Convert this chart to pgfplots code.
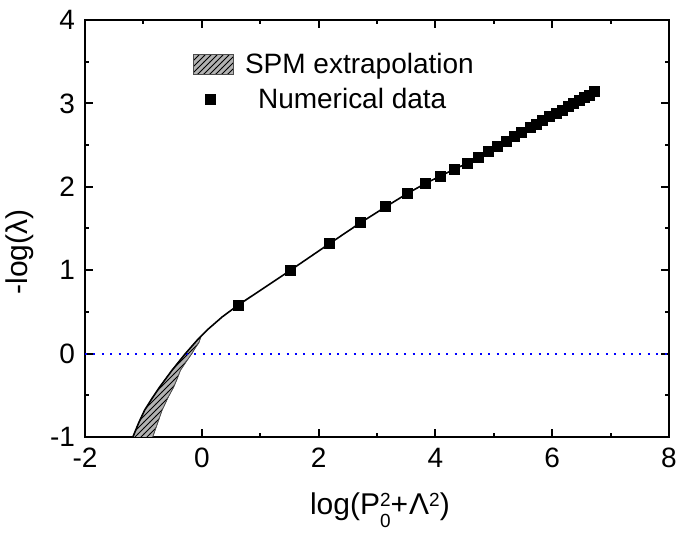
\documentclass[border=0pt]{standalone}
\usepackage{fontspec}
\setmainfont{Liberation Sans}
\usepackage{pgfplots}
\pgfplotsset{compat=1.18}
\usetikzlibrary{patterns}
\pgfplotsset{myswatch/.style={legend image code/.code={\draw[##1] (0pt,-5pt) rectangle (20pt,5pt); \path (23.5pt,0pt);}}}
\newcommand{\supsub}[2]{\makebox[0pt][l]{\raisebox{4.4pt}{\fontsize{9.5}{10}\selectfont #1}}\raisebox{-6.3pt}{\fontsize{9.5}{10}\selectfont #2}}
\begin{document}
\begin{tikzpicture}
\begin{axis}[
  scale only axis,
  width=292pt, height=208.5pt,
  xmin=-2, xmax=8, ymin=-1, ymax=4,
  xtick={-2,0,...,8}, ytick={-1,0,...,4},
  minor x tick num=1, minor y tick num=1,
  tick align=inside,
  major tick length=4pt, minor tick length=2pt,
  axis line style={line width=1pt},
  every tick/.style={line width=1pt, black},
  /pgf/number format/assume math mode=true,
  tick label style={font=\fontsize{14}{16}\selectfont},
  xticklabel style={yshift=-2pt},
  yticklabel style={xshift=-1.5pt},
  xlabel={log(P\supsub{2}{0}+\kern0.5pt Λ\raisebox{4.4pt}{\fontsize{9.5}{10}\selectfont 2})},
  ylabel={-log(λ)},
  label style={font=\fontsize{15}{17}\selectfont},
  xlabel style={at={(rel axis cs:0.505,-0.187)}, anchor=base},
  ylabel style={at={(rel axis cs:-0.111,0.444)}, anchor=center},
  legend style={at={(0.185,0.932)}, anchor=north west, draw=none, fill=none,
    font=\fontsize{14}{16}\selectfont, row sep=2pt, inner sep=0pt,
    nodes={inner sep=2pt}},
  legend cell align=left,
]
\coordinate (SW) at (rel axis cs:0,0);
\coordinate (NE) at (rel axis cs:1,1);
% SPM extrapolation region
\addplot[fill=gray!60, draw=gray!60!black, line width=0.3pt,
  postaction={pattern=north east lines}, myswatch]
  coordinates {(-0.02,0.19) (-0.08,0.16) (-0.18,0.08) (-0.28,0.0) (-0.395,-0.10) (-0.51,-0.20) (-0.615,-0.30) (-0.72,-0.40) (-0.85,-0.535) (-0.98,-0.68) (-1.08,-0.83) (-1.18,-1.0) (-1.2,-1.05)
  (-0.82,-1.05) (-0.84,-1.0) (-0.76,-0.84) (-0.68,-0.68) (-0.58,-0.53) (-0.48,-0.40) (-0.42,-0.30) (-0.365,-0.20) (-0.27,-0.10) (-0.17,0.0) (-0.11,0.07) (-0.05,0.13)} --cycle;
\addlegendentry{SPM extrapolation}
% blue dotted zero line
\addplot[blue, line width=1pt, dash pattern=on 1pt off 3.2pt, forget plot]
  coordinates {(-2,0) (8,0)};
% solid curve
\addplot[black, line width=0.8pt, forget plot] coordinates {
(-1.22,-1.06) (-1.18,-1.0) (-1.08,-0.83) (-0.98,-0.68) (-0.85,-0.535) (-0.72,-0.40) (-0.615,-0.30) (-0.51,-0.20) (-0.395,-0.10) (-0.28,0.0) (-0.18,0.08) (-0.08,0.16) (0.12,0.30) (0.35,0.44)
(0.62,0.58) (1.52,1.00) (2.19,1.32) (2.72,1.57) (3.15,1.76) (3.52,1.92) (3.83,2.04) (4.09,2.13) (4.32,2.21) (4.54,2.28)
(4.73,2.35) (4.90,2.42) (5.06,2.48) (5.21,2.54) (5.35,2.60) (5.48,2.65) (5.62,2.71) (5.73,2.75) (5.84,2.80) (5.96,2.84)
(6.07,2.88) (6.17,2.92) (6.27,2.96) (6.37,3.00) (6.46,3.03) (6.55,3.07) (6.64,3.10) (6.73,3.14)};
% numerical data
\addplot[only marks, mark=square*, mark size=2.5pt, black] coordinates {
(0.62,0.58) (1.52,1.00) (2.19,1.32) (2.72,1.57) (3.15,1.76) (3.52,1.92) (3.83,2.04) (4.09,2.13) (4.32,2.21) (4.54,2.28)
(4.73,2.35) (4.90,2.42) (5.06,2.48) (5.21,2.54) (5.35,2.60) (5.48,2.65) (5.62,2.71) (5.73,2.75) (5.84,2.80) (5.96,2.84)
(6.07,2.88) (6.17,2.92) (6.27,2.96) (6.37,3.00) (6.46,3.03) (6.55,3.07) (6.64,3.10) (6.73,3.14)};
\addlegendentry{\hspace{6.5pt}Numerical data}
\end{axis}
\pgfresetboundingbox
\path ([shift={(-42.5pt,-49.5pt)}]SW) rectangle ([shift={(8pt,10pt)}]NE);
\end{tikzpicture}
\end{document}
